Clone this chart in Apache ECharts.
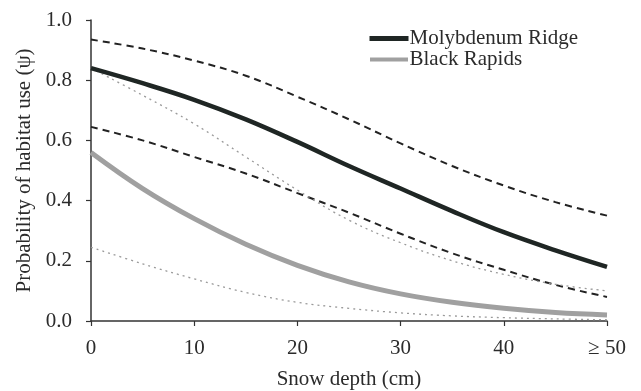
<!DOCTYPE html>
<html>
<head>
<meta charset="utf-8">
<script src="https://cdn.jsdelivr.net/npm/echarts@6/dist/echarts.min.js"></script>
<style>
  html, body { margin: 0; padding: 0; background: #fff; }
  #chart { width: 641px; height: 391px; }
</style>
</head>
<body>
<div id="chart"></div>
<script>
// snow depth (cm), last one is ">= 50"
var depth = [0, 5, 10, 15, 20, 25, 30, 35, 40, 45, 50];

// Molybdenum Ridge: estimate + 95% bounds
var mrFit   = [0.84, 0.79, 0.735, 0.67, 0.595, 0.515, 0.44, 0.365, 0.295, 0.235, 0.18];
var mrUpper = [0.935, 0.905, 0.865, 0.815, 0.745, 0.67, 0.59, 0.515, 0.45, 0.395, 0.35];
var mrLower = [0.645, 0.60, 0.545, 0.49, 0.425, 0.36, 0.29, 0.225, 0.17, 0.12, 0.08];

// Black Rapids: estimate + 95% bounds
var brFit   = [0.56, 0.44, 0.34, 0.255, 0.185, 0.13, 0.09, 0.062, 0.042, 0.028, 0.02];
var brUpper = [0.84, 0.75, 0.655, 0.545, 0.435, 0.335, 0.26, 0.20, 0.155, 0.122, 0.10];
var brLower = [0.245, 0.19, 0.14, 0.095, 0.062, 0.042, 0.027, 0.017, 0.011, 0.007, 0.004];

var xTicks = ['0', '10', '20', '30', '40', '\u2265 50'];

function pairs(ys) {
    var out = [];
    for (var i = 0; i < depth.length; i++) {
        out.push([depth[i], ys[i]]);
    }
    return out;
}

var chart = echarts.init(document.getElementById('chart'));
var font = "'Liberation Serif', serif";
var ink = '#2b2b2b';

var option = {
    animation: false,
    backgroundColor: '#fff',
    grid: {
        left: 91,
        right: 34,
        top: 20,
        bottom: 70,
        outerBoundsMode: 'none'
    },
    legend: {
        orient: 'vertical',
        left: 364,
        top: 23,
        itemWidth: 39,
        itemHeight: 5,
        itemGap: 0,
        textStyle: { fontFamily: font, fontSize: 21, lineHeight: 21, color: ink, padding: [0, 0, 0, -4] },
        data: [
            { name: 'Molybdenum Ridge', icon: 'rect', itemStyle: { color: '#1f2624' } },
            { name: 'Black Rapids', icon: 'rect', itemStyle: { color: '#a0a0a0', borderColor: '#fff', borderWidth: 1 } }
        ]
    },
    xAxis: {
        type: 'value',
        min: 0,
        max: 50,
        interval: 10,
        name: 'Snow depth (cm)',
        nameLocation: 'middle',
        nameGap: 48,
        nameTextStyle: { fontFamily: font, fontSize: 21, color: ink },
        axisLine: { lineStyle: { color: '#333', width: 1.5 } },
        axisTick: { inside: false, length: 5, lineStyle: { color: '#333', width: 1.2 } },
        axisLabel: {
            fontFamily: font, fontSize: 21, color: ink, margin: 17,
            formatter: function (v) { return xTicks[v / 10]; }
        },
        splitLine: { show: false }
    },
    yAxis: {
        type: 'value',
        min: 0,
        max: 1,
        interval: 0.2,
        name: 'Probability of habitat use (\u03c8)',
        nameLocation: 'middle',
        nameGap: 47,
        nameTextStyle: { fontFamily: font, fontSize: 21, color: ink },
        axisLine: { show: true, lineStyle: { color: '#333', width: 1.5 } },
        axisTick: { show: true, length: 5, lineStyle: { color: '#333', width: 1.2 } },
        axisLabel: {
            fontFamily: font, fontSize: 21, color: ink, margin: 19,
            formatter: function (v) { return v.toFixed(1); }
        },
        splitLine: { show: false }
    },
    series: [
        {
            name: 'Molybdenum Ridge', type: 'line', smooth: 0.4, showSymbol: false,
            data: pairs(mrFit), z: 5,
            lineStyle: { color: '#1f2624', width: 4.5 }
        },
        {
            name: 'MR upper', type: 'line', smooth: 0.4, showSymbol: false,
            data: pairs(mrUpper),
            lineStyle: { color: '#222', width: 2, type: [7, 5] }
        },
        {
            name: 'MR lower', type: 'line', smooth: 0.4, showSymbol: false,
            data: pairs(mrLower),
            lineStyle: { color: '#222', width: 2, type: [7, 5] }
        },
        {
            name: 'Black Rapids', type: 'line', smooth: 0.4, showSymbol: false,
            data: pairs(brFit), z: 4,
            lineStyle: { color: '#a0a0a0', width: 5 }
        },
        {
            name: 'BR upper', type: 'line', smooth: 0.4, showSymbol: false,
            data: pairs(brUpper),
            lineStyle: { color: '#9a9a9a', width: 1.3, type: [2, 4] }
        },
        {
            name: 'BR lower', type: 'line', smooth: 0.4, showSymbol: false,
            data: pairs(brLower),
            lineStyle: { color: '#9a9a9a', width: 1.3, type: [2, 4] }
        }
    ]
};
chart.setOption(option);
</script>
</body>
</html>
